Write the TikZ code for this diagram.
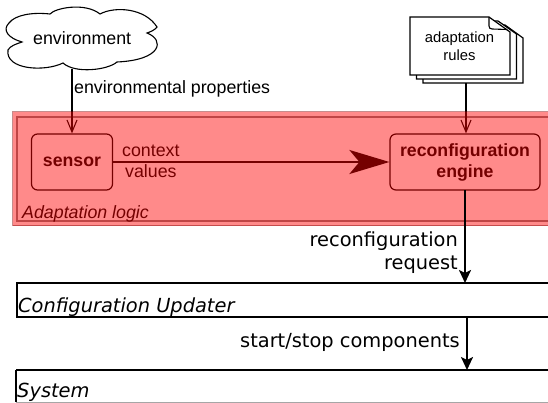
\documentclass[tikz,border=0pt]{standalone}
\usepackage{fontspec}
\setmainfont{Liberation Sans}
\newfontfamily\dejavu{DejaVu Sans}
\usetikzlibrary{arrows.meta}
\definecolor{logicred}{HTML}{FF0000}
\definecolor{edgered}{HTML}{800000}
\tikzset{
  lab/.style={anchor=base west,inner sep=0pt,font=\fontsize{17.8}{20}\selectfont,text=black},
  labr/.style={anchor=base east,inner sep=0pt,font=\dejavu\fontsize{19.4}{22}\selectfont,text=black},
  layer/.style={anchor=base west,inner sep=0pt,font=\dejavu\itshape\fontsize{19.4}{22}\selectfont,text=black},
  comp/.style={draw=black,line width=1.2pt,rounded corners=6pt,inner sep=0pt,align=center,font=\bfseries\fontsize{17.7}{21}\selectfont},
  thinarrow/.style={draw=black,line width=1.1pt,-{Straight Barb[length=12pt,width=10pt,line width=1.1pt]}},
  thickarrow/.style={draw=black,line width=2.3pt,-{Stealth[length=13pt,width=12pt,inset=3pt]}},
  page/.style={draw=black,line width=1.2pt,fill=white,line join=miter},
  bar/.style={draw=black,line width=1.7pt,fill=white},
}
\begin{document}
\begin{tikzpicture}[x=1pt,y=-1pt]
\useasboundingbox (0,0) rectangle (548,403);
\clip (0,0) rectangle (548,403);
% cloud
\draw[line width=1.1pt,fill=white]
 (22,42) .. controls (8,38) and (2,30) .. (9,23)
 .. controls (15,15) and (32,12) .. (50,14)
 .. controls (55,8) and (85,2) .. (100,14)
 .. controls (115,6) and (145,8) .. (157,27)
 .. controls (155,30) and (150,32) .. (147,33)
 .. controls (165,40) and (162,60) .. (117,62)
 .. controls (108,70) and (75,74) .. (63,63)
 .. controls (45,72) and (5,70) .. (8,50)
 .. controls (10,46) and (16,44) .. (22,42) -- cycle;
\node[lab] (envtext) at (33,44.5) {environment};
\coordinate (envbottom) at (72,69);
\node[lab] (envprops) at (74,94) {environmental properties};
% document stack
\path[page] (423,25) -- (505,25) -- (523,38) -- (523,83) -- (423,83) -- cycle;
\path[page] (416.5,21) -- (498,21) -- (516.5,34) -- (516.5,79) -- (416.5,79) -- cycle;
\path[page] (410,17) -- (489,17) -- (510,32) -- (510,75) -- (410,75) -- cycle;
\draw[line width=1.1pt] (489,17) -- (489,26) .. controls (489,28) and (490,29) .. (492,29) -- (507,29.5);
\node[inner sep=0pt,align=center,font=\fontsize{14.8}{17.5}\selectfont] (rules) at (459.5,46) {adaptation\\rules};
\coordinate (rulesbottom) at (466,83.5);
% components
\node[comp,minimum width=81pt,minimum height=56pt] (sensor) at (72,162) {sensor};
\node[comp,minimum width=150pt,minimum height=56pt] (engine) at (465,162) {reconfiguration\\engine};
\node[lab] (context) at (122,157) {context};
\node[lab] (values) at (125,178) {values};
\node[lab,font=\itshape\fontsize{17.8}{20}\selectfont] (logic) at (22,218.5) {Adaptation logic};
\draw[thinarrow] (envbottom) -- (sensor.north-|envbottom);
\draw[thinarrow] (rulesbottom) -- (engine.north-|rulesbottom);
\draw[draw=black,line width=2.2pt,-{Stealth[length=40pt,width=24pt,inset=10pt]}] (sensor.east) -- (engine.west);
% translucent logic layer
\fill[logicred,opacity=.46] (12.5,112) rectangle (560,225.6);
\draw[edgered,opacity=.45,line width=1pt] (12.5,112) rectangle (560,225.6);
\draw[edgered,opacity=.5,line width=1.2pt] (17,117) rectangle (560,221);
% lower layers
\draw[bar] (17,283) rectangle (560,317);
\draw[bar] (16,370) -- (560,370) (16,370) -- (16,402);
\draw[gray!70,line width=.8pt] (16,402.3) -- (560,402.3);
\node[layer] (updater) at (18,312) {Configuration Updater};
\node[layer] (system) at (17,397) {System};
\node[labr] (req1) at (458,246) {reconfiguration};
\node[labr] (req2) at (458,269.5) {request};
\node[labr] (startstop) at (460,347) {start/stop components};
\coordinate (engbottom) at (465,190);
\coordinate (updtop) at (465,283);
\coordinate (updbottom) at (467,317);
\coordinate (systop) at (467,370);
\draw[thickarrow] (engbottom) -- (updtop);
\draw[thickarrow] (updbottom) -- (systop);
\end{tikzpicture}
\end{document}
